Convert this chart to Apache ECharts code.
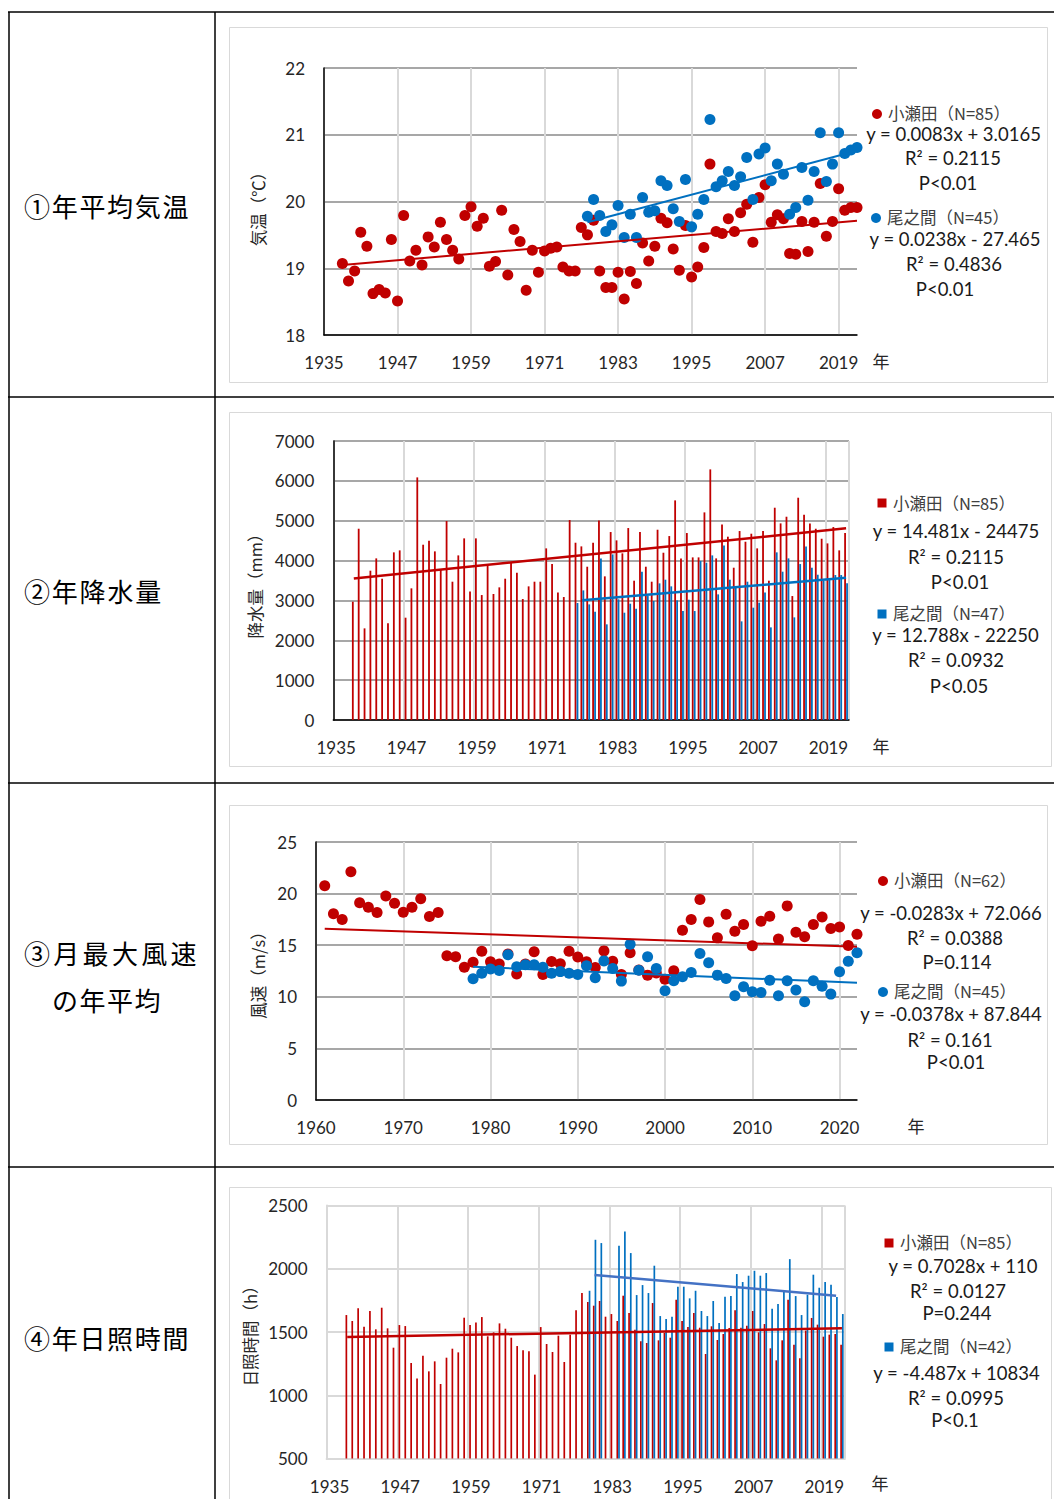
<!DOCTYPE html>
<html><head><meta charset="utf-8">
<script src="https://cdn.jsdelivr.net/npm/echarts@6/dist/echarts.min.js"></script>
<style>html,body{margin:0;padding:0;background:#fff}#c{width:1054px;height:1499px}</style>
</head><body><div id="c"></div><script>
// ---------------- DATA ----------------
const ROW_LABELS = ['①年平均気温', '②年降水量', '③月最大風速', 'の年平均', '④年日照時間'];
const Y_NAMES = ['気温（℃）', '降水量（mm）', '風速（m/s）', '日照時間（h）'];

// ① annual mean temperature (°C)
const TEMP_OSEDA_START = 1938;
const tempOseda = [19.07,18.81,18.96,19.54,19.33,18.62,18.68,18.63,19.43,18.51,
  19.79,19.11,19.27,19.05,19.47,19.32,19.69,19.43,19.27,19.14,
  19.79,19.92,19.63,19.75,19.03,19.10,19.87,18.90,19.58,19.40,
  18.67,19.27,18.94,19.26,19.30,19.32,19.02,18.96,18.96,19.61,
  19.50,19.72,18.96,18.71,18.71,18.94,18.54,18.95,18.77,19.38,
  19.11,19.33,19.75,19.68,19.29,18.97,19.64,18.87,19.02,19.31,
  20.56,19.55,19.52,19.74,19.55,19.83,19.96,19.39,20.06,20.25,
  19.69,19.80,19.74,19.22,19.21,19.70,19.25,19.69,20.27,19.48,
  19.70,20.19,19.87,19.91,19.91];
const TEMP_ONOAIDA_START = 1978;
const tempOnoaida = [19.78,20.03,19.79,19.55,19.65,19.94,19.46,19.81,19.46,20.06,
  19.84,19.86,20.31,20.24,19.89,19.70,20.33,19.62,19.81,20.03,
  21.23,20.22,20.31,20.45,20.24,20.37,20.66,20.03,20.71,20.80,
  20.31,20.56,20.41,19.81,19.91,20.51,20.02,20.45,21.03,20.30,
  20.56,21.03,20.72,20.77,20.81];
const tempTrendOseda = [['1938', 19.05], ['2022', 19.71]];
const tempTrendOnoaida = [['1978', 19.69], ['2022', 20.76]];

// ② annual precipitation (mm)
const PREC_OSEDA_START = 1938;
const precOseda = [2968,4799,2299,3746,4055,3545,2425,4206,4256,2567,
  3303,6087,4398,4498,4231,3779,4992,3470,4130,4557,
  3227,4557,3135,3880,3161,3328,3545,3955,3696,3035,
  3353,3470,3470,4306,3913,3202,3085,5017,4448,4356,3846,
  4448,5008,3604,4716,4507,4181,4816,3495,4716,3846,
  3470,4774,4197,4615,5510,4055,4691,4080,4080,
  5209,6288,4055,4908,4599,3821,4741,4473,4674,4306,
  4741,3495,5326,4933,5100,3110,5577,5151,4933,4799,
  4548,4431,4841,4256,4691];
const PREC_ONOAIDA_START = 1976;
const precOnoaida = [2935,3252,2901,2717,4055,2400,4155,3027,2692,2918,
  2793,3721,3110,2985,3428,3520,3353,3002,2734,3018,
  2734,3988,3946,4130,3152,4381,3520,3319,2475,3470,
  2818,2943,3202,2324,4206,3721,4055,2575,3913,4356,
  3821,3645,3487,3512,3637,3637,3428];
const precTrendOseda = [['1938', 3553], ['2022', 4808]];
const precTrendOnoaida = [['1977', 3002], ['2022', 3570]];

// ③ annual mean of monthly max wind speed (m/s)
const WIND_OSEDA_START = 1961;
const windOseda = [20.75,18.04,17.49,22.12,19.12,18.67,18.16,19.76,19.06,18.19,
  18.67,19.50,17.78,18.16,13.98,13.88,12.86,13.34,14.42,13.40,
  13.18,14.14,12.22,13.18,14.36,12.16,13.43,13.20,14.42,13.85,
  13.39,12.84,14.45,13.45,12.16,14.26,12.60,12.10,12.30,11.71,
  12.52,16.45,17.48,19.42,17.26,15.71,18.00,16.35,17.00,14.94,
  17.32,17.81,15.61,18.81,16.26,15.81,17.00,17.74,16.61,16.77,
  14.97,16.06];
const WIND_ONOAIDA_START = 1978;
const windOnoaida = [11.74,12.28,12.70,12.54,14.07,12.92,13.11,13.11,12.86,12.28,
  12.44,12.28,12.16,13.00,11.84,13.48,12.74,11.52,15.10,12.58,
  13.87,12.74,10.58,11.55,11.94,12.35,14.19,13.29,12.10,11.77,
  10.10,10.97,10.48,10.42,11.61,10.10,11.55,10.65,9.52,11.55,
  11.03,10.26,12.42,13.45,14.26];
const windTrendOseda = [['1961', 16.60], ['2022', 14.84]];
const windTrendOnoaida = [['1978', 12.92], ['2022', 11.35]];

// ④ annual sunshine duration (h)
const SUN_OSEDA_START = 1938;
const sunOseda = [1634,1587,1687,1542,1666,1521,1692,1529,1376,1555,
  1547,1255,1132,1313,1189,1268,1089,1297,1368,1339,
  1613,1555,1576,1618,1466,1497,1568,1526,1455,1389,
  1355,1347,1163,1539,1405,1342,1471,1263,1479,1671,
  1808,1737,1708,1745,1621,1642,1587,1787,1650,1518,
  1426,1413,1729,1434,1492,1455,1755,1587,1539,1650,
  1534,1326,1545,1437,1484,1532,1671,1534,1550,1666,
  1497,1563,1371,1276,1434,1755,1400,1292,1511,1611,
  1558,1463,1479,1484,1400];
const SUN_ONOAIDA_START = 1979;
const sunOnoaida = [1826,2229,2203,null,null,2182,2295,2124,1792,1871,
  1808,2024,1626,1603,1621,1858,1858,1766,1826,1666,
  1626,1745,1571,1779,1784,1958,1895,1945,1984,1945,
  1966,1684,1721,1816,2076,1784,1634,1795,1953,1850,
  1895,1874,1776,1642];
const sunTrendOseda = [['1938', 1461], ['2022', 1529]];
const sunTrendOnoaida = [['1980', 1950], ['2021', 1787]];

const LEGENDS = [
  ['小瀬田（N=85）', 'y = 0.0083x + 3.0165', 'R² = 0.2115', 'P<0.01', '尾之間（N=45）', 'y = 0.0238x - 27.465', 'R² = 0.4836', 'P<0.01'],
  ['小瀬田（N=85）', 'y = 14.481x - 24475', 'R² = 0.2115', 'P<0.01', '尾之間（N=47）', 'y = 12.788x - 22250', 'R² = 0.0932', 'P<0.05'],
  ['小瀬田（N=62）', 'y = -0.0283x + 72.066', 'R² = 0.0388', 'P=0.114', '尾之間（N=45）', 'y = -0.0378x + 87.844', 'R² = 0.161', 'P<0.01'],
  ['小瀬田（N=85）', 'y = 0.7028x + 110', 'R² = 0.0127', 'P=0.244', '尾之間（N=42）', 'y = -4.487x + 10834', 'R² = 0.0995', 'P<0.1']
];
const YEAR_UNIT = '年';

// ---------------- BUILD ----------------
const FONT = 'Lato, "Noto Sans", sans-serif';
const JP = '"Noto Sans CJK JP", sans-serif';
const RED = '#C00000', BLUE = '#0070C0', BLUE2 = '#4472C4';
const GDARK = '#8a8a8a', GLIGHT = '#d9d9d9', TXT = '#262626';

function yearList(a, b) { const r = []; for (let y = a; y <= b; y++) r.push(String(y)); return r; }
const YEARS35 = yearList(1935, 2022);
const YEARS60 = yearList(1960, 2022);
function pairs(start, vals) { return vals.map((v, i) => v == null ? null : [String(start + i), v]).filter(Boolean); }
function aligned(cats, start, vals) {
  const a = cats.map(() => null);
  vals.forEach((v, i) => { const k = cats.indexOf(String(start + i)); if (k >= 0) a[k] = v; });
  return a;
}

const grids = [
  { left: 324, top: 68, width: 533, height: 267 },
  { left: 333.3, top: 441, width: 515.7, height: 279 },
  { left: 316, top: 842, width: 541, height: 258 },
  { left: 326.6, top: 1205.5, width: 518.3, height: 253 }
];

const lblStyle = { fontSize: 17, color: TXT, fontFamily: FONT };
function xCat(idx, cats, boundaryGap, step, lightAxis) {
  const f = (i) => i % step === 0;
  return {
    type: 'category', gridIndex: idx, data: cats, boundaryGap,
    axisLine: { show: true, lineStyle: { color: lightAxis ? GLIGHT : '#000', width: lightAxis ? 2 : 1.5 } },
    axisTick: { show: false },
    axisLabel: Object.assign({ interval: f, margin: 19 }, lblStyle),
    splitLine: { show: true, interval: f, lineStyle: { color: GLIGHT, width: 2 } }
  };
}
function yVal(idx, min, max, interval, light) {
  return {
    type: 'value', gridIndex: idx, min, max, interval,
    axisLine: { show: true, lineStyle: { color: light ? GLIGHT : '#000', width: light ? 2 : 1.5 } },
    axisTick: { show: false },
    axisLabel: Object.assign({ margin: 19, formatter: (v) => String(v) }, lblStyle),
    splitLine: { show: true, lineStyle: { color: light ? GLIGHT : GDARK, width: light ? 2 : 1.5 } }
  };
}

const xAxis = [
  xCat(0, YEARS35, false, 12, false),
  xCat(1, YEARS35, true, 12, false),
  xCat(2, YEARS60, false, 10, false),
  xCat(3, YEARS35, true, 12, true)
];
const yAxis = [
  yVal(0, 18, 22, 1, false),
  yVal(1, 0, 7000, 1000, false),
  yVal(2, 0, 25, 5, false),
  yVal(3, 500, 2500, 500, true)
];

function scatter(i, data, color) {
  return { type: 'scatter', xAxisIndex: i, yAxisIndex: i, data, symbolSize: 11, itemStyle: { color, opacity: 1 }, z: 3 };
}
function trend(i, data, color, w) {
  return { type: 'line', xAxisIndex: i, yAxisIndex: i, data, symbol: 'none', lineStyle: { color, width: w || 2 }, z: 5 };
}
function bars(i, data, color, bw, gap) {
  return { type: 'bar', xAxisIndex: i, yAxisIndex: i, data, barWidth: bw, barGap: gap, itemStyle: { color }, z: 3 };
}

const series = [
  scatter(0, pairs(TEMP_OSEDA_START, tempOseda), RED),
  scatter(0, pairs(TEMP_ONOAIDA_START, tempOnoaida), BLUE),
  trend(0, tempTrendOseda, RED), trend(0, tempTrendOnoaida, BLUE),

  bars(1, aligned(YEARS35, PREC_OSEDA_START, precOseda), RED, 1.8, '10%'),
  bars(1, aligned(YEARS35, PREC_ONOAIDA_START, precOnoaida), BLUE, 1.8, '10%'),
  trend(1, precTrendOseda, RED, 2.5), trend(1, precTrendOnoaida, BLUE, 2.5),

  scatter(2, pairs(WIND_OSEDA_START, windOseda), RED),
  scatter(2, pairs(WIND_ONOAIDA_START, windOnoaida), BLUE),
  trend(2, windTrendOseda, RED), trend(2, windTrendOnoaida, BLUE),

  bars(3, aligned(YEARS35, SUN_OSEDA_START, sunOseda), RED, 1.7, '0%'),
  bars(3, aligned(YEARS35, SUN_ONOAIDA_START, sunOnoaida), BLUE, 1.7, '0%'),
  trend(3, sunTrendOseda, RED, 2.5), trend(3, sunTrendOnoaida, BLUE2, 2.5)
];

// ---------------- GRAPHICS (table, panels, texts) ----------------
const G = [];
function line(x1, y1, x2, y2, stroke, w) { G.push({ type: 'line', silent: true, shape: { x1, y1, x2, y2 }, style: { stroke, lineWidth: w } }); }
function rect(x, y, w, h) { G.push({ type: 'rect', silent: true, shape: { x, y, width: w, height: h }, style: { fill: 'none', stroke: '#d9d9d9', lineWidth: 1 } }); }
function txt(x, y, s, size, o) {
  o = o || {};
  G.push({ type: 'text', x, y, rotation: o.rot || 0, z: 100, silent: true,
    style: { text: s, fontSize: size, lineHeight: size, fontFamily: o.ff || FONT, fill: o.fill || TXT, textAlign: o.align || 'center', textVerticalAlign: 'middle' } });
}
function spaced(x, y, s, size, pitch) {
  Array.from(s).forEach((ch, i) => txt(x + i * pitch + size / 2, y, ch, size, { ff: JP, fill: '#000' }));
}

// table
[12, 397, 783, 1167].forEach(y => line(8, y, 1054, y, '#000', 1.5));
[9, 215].forEach(x => line(x, 12, x, 1499, '#000', 1.5));
// panels
rect(229.5, 27.5, 818, 355);
rect(229.5, 412.5, 822, 354);
rect(229.5, 805.5, 818, 339);
rect(229.5, 1187.5, 822, 320);

// row labels
spaced(24, 205, ROW_LABELS[0], 26, 27.7);
spaced(24, 590, ROW_LABELS[1], 26, 27.8);
spaced(24, 952, ROW_LABELS[2], 26, 29.3);
spaced(52, 999, ROW_LABELS[3], 26, 27.5);
spaced(24, 1337, ROW_LABELS[4], 26, 27.7);

// y axis names
txt(258, 205, Y_NAMES[0], 16.5, { ff: JP, rot: Math.PI / 2 });
txt(255, 582, Y_NAMES[1], 16.5, { ff: JP, rot: Math.PI / 2 });
txt(258, 971, Y_NAMES[2], 16.5, { ff: JP, rot: Math.PI / 2 });
txt(250, 1332, Y_NAMES[3], 16.5, { ff: JP, rot: Math.PI / 2 });
// "年"
txt(881, 360, YEAR_UNIT, 17, { ff: JP });
txt(881, 745, YEAR_UNIT, 17, { ff: JP });
txt(916, 1125, YEAR_UNIT, 17, { ff: JP });
txt(880, 1482, YEAR_UNIT, 17, { ff: JP });

// legends / equations
function marker(kind, x, y, color) {
  if (kind === 'c') G.push({ type: 'circle', silent: true, shape: { cx: x, cy: y, r: 5 }, style: { fill: color } });
  else G.push({ type: 'rect', silent: true, shape: { x: x - 4.5, y: y - 4.5, width: 9, height: 9 }, style: { fill: color } });
}
const LAY = [
  { kind: 'c', m: [[877, 114], [876, 218]], t: [[888, 112.5], [887, 217]],
    c: [[953.5, 134], [953, 158], [948, 183], [955, 238.5], [954, 264], [945, 289]] },
  { kind: 's', m: [[882, 503], [882, 614]], t: [[893, 503], [893, 613]],
    c: [[956, 531], [956, 557], [960, 582], [955.5, 634.5], [956, 660], [959, 686]] },
  { kind: 'c', m: [[883, 881], [883, 992]], t: [[894, 880], [894, 991]],
    c: [[951, 913], [955, 938], [957, 962], [951, 1014], [950, 1040], [956, 1062]] },
  { kind: 's', m: [[889, 1243], [889, 1347]], t: [[900, 1242], [900, 1346]],
    c: [[963, 1266], [958, 1291], [957, 1313], [956.5, 1373], [956, 1398], [955, 1420]] }
];
LAY.forEach((L, k) => {
  const T = LEGENDS[k];
  marker(L.kind, L.m[0][0], L.m[0][1], RED);
  marker(L.kind, L.m[1][0], L.m[1][1], BLUE);
  txt(L.t[0][0], L.t[0][1], T[0], 16.5, { ff: JP, align: 'left', fill: '#404040' });
  txt(L.t[1][0], L.t[1][1], T[4], 16.5, { ff: JP, align: 'left', fill: '#404040' });
  const eq = [T[1], T[2], T[3], T[5], T[6], T[7]];
  eq.forEach((s, j) => txt(L.c[j][0], L.c[j][1], s, 18.5, { fill: '#1a1a1a' }));
});

const chart = echarts.init(document.getElementById('c'), null, { renderer: 'svg', width: 1054, height: 1499 });
chart.setOption({
  animation: false,
  backgroundColor: '#fff',
  grid: grids,
  xAxis, yAxis, series,
  graphic: { elements: G }
});
</script></body></html>
